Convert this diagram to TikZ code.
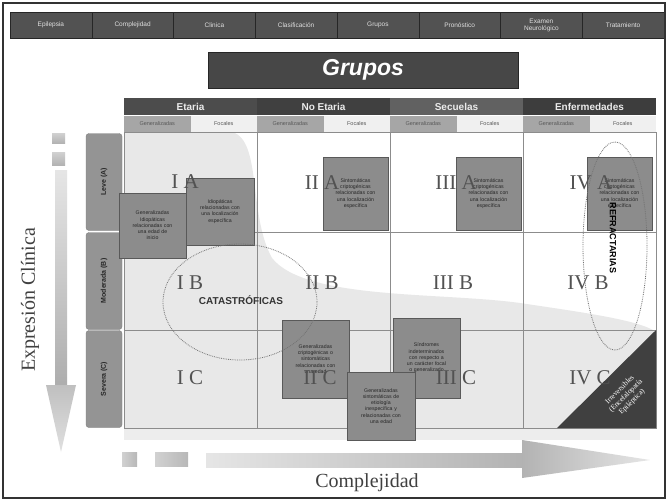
\documentclass[tikz,border=0pt]{standalone}
\usepackage{fontspec}
\setmainfont{Liberation Serif}
\setsansfont{Liberation Sans}
\usetikzlibrary{shapes.geometric}

\begin{document}
\begin{tikzpicture}[x=1pt, y=-1pt,
  tab/.style={draw=black!85, fill=black!68, text=black!12, minimum width=81.75pt, minimum height=26pt, inner sep=0pt, align=center, font=\sffamily\fontsize{6.5}{7}\selectfont},
  titlebox/.style={draw=black!85, fill=black!72, text=white, minimum width=310pt, minimum height=36pt, font=\sffamily\bfseries\itshape\fontsize{23}{25}\selectfont},
  colhead/.style={fill=black!70, text=black!8, minimum width=133pt, minimum height=17pt, inner sep=0pt, font=\sffamily\bfseries\fontsize{10}{11}\selectfont},
  genhead/.style={fill=black!35, text=black!65, minimum width=66.5pt, minimum height=16pt, inner sep=0pt, font=\sffamily\fontsize{5.5}{6}\selectfont},
  fochead/.style={genhead, fill=black!6},
  rowhead/.style={fill=black!42, draw=black!50, rounded corners=3pt, minimum width=97pt, minimum height=36pt, rotate=90, inner sep=0pt, text=black!85, font=\sffamily\bfseries\fontsize{7}{8}\selectfont},
  cell/.style={text=black!68, font=\fontsize{21}{23}\selectfont},
  groupbox/.style={fill=black!45, draw=black!65, text=black!85, align=center, inner sep=2pt, font=\sffamily\fontsize{5.2}{6.2}\selectfont},
  zone/.style={draw=black!55, densely dotted, thick, ellipse, inner sep=0pt},
  axis/.style={text=black!75, font=\fontsize{20}{22}\selectfont}]

\useasboundingbox (0,0) rectangle (668,501);
\fill[white] (0,0) rectangle (668,501);

% top menu
\node[tab] (epilepsia) at (50.9,25) {Epilepsia};
\node[tab] (complejidad) at (132.6,25) {Complejidad};
\node[tab] (clinica) at (214.4,25) {Clinica};
\node[tab] (clasificacion) at (296.1,25) {Clasificación};
\node[tab] (grupos) at (377.9,25) {Grupos};
\node[tab] (pronostico) at (459.6,25) {Pronóstico};
\node[tab] (examen) at (541.4,25) {Examen\\Neurológico};
\node[tab] (tratamiento) at (623.1,25) {Tratamiento};

\node[titlebox] (titulo) at (363,70) {Grupos};

% soft background swoosh
\fill[black!9] (124,132) -- (232,132) .. controls (262,140) and (248,215) .. (272,258)
  .. controls (305,300) and (440,292) .. (520,303) .. controls (580,312) and (640,320) .. (656,332)
  -- (656,428) -- (124,428) -- cycle;
\fill[black!7] (124,428) rectangle (640,440);

% column headers
\node[colhead] (etaria) at (190.5,106.5) {Etaria};
\node[colhead, fill=black!75] (noetaria) at (323.5,106.5) {No Etaria};
\node[colhead, fill=black!62] (secuelas) at (456.5,106.5) {Secuelas};
\node[colhead, fill=black!76] (enfermedades) at (589.5,106.5) {Enfermedades};

\node[genhead] (gen1) at (157.25,124) {Generalizadas};
\node[fochead] (foc1) at (223.75,124) {Focales};
\node[genhead] (gen2) at (290.25,124) {Generalizadas};
\node[fochead] (foc2) at (356.75,124) {Focales};
\node[genhead] (gen3) at (423.25,124) {Generalizadas};
\node[fochead] (foc3) at (489.75,124) {Focales};
\node[genhead] (gen4) at (556.25,124) {Generalizadas};
\node[fochead] (foc4) at (622.75,124) {Focales};

% grid
\draw[black!45, thick] (124,132) rectangle (656,428);
\draw[black!45, thick] (124,232) -- (656,232);
\draw[black!45, thick] (124,330) -- (656,330);
\draw[black!45, thick] (257,132) -- (257,428);
\draw[black!45, thick] (390,132) -- (390,428);
\draw[black!45, thick] (523,132) -- (523,428);

% row headers
\node[rowhead] (leve) at (104,182) {Leve (A)};
\node[rowhead] (moderada) at (104,281) {Moderada (B)};
\node[rowhead] (severa) at (104,379) {Severa (C)};

% group boxes
\node[groupbox, text width=63pt, minimum height=65pt] (idiopedad) at (152.5,225.5) {Generalizadas\\Idiopáticas\\relacionadas con\\una edad de\\inicio};
\node[groupbox, text width=64pt, minimum height=67pt] (idioploc) at (220,211.5) {Idiopáticas\\relacionadas con\\una localización\\específica};
\node[groupbox, text width=61pt, minimum height=73pt] (sintloc2) at (355.5,193.5) {Sintomáticas\\criptogénicas\\relacionadas con\\una localización\\específica};
\node[groupbox, text width=61pt, minimum height=73pt] (sintloc3) at (488.5,193.5) {Sintomáticas\\criptogénicas\\relacionadas con\\una localización\\específica};
\node[groupbox, text width=61pt, minimum height=73pt] (sintloc4) at (619.5,193.5) {Sintomáticas\\criptogénicas\\relacionadas con\\una localización\\específica};
\node[groupbox, text width=63pt, minimum height=78pt] (generaledad) at (315.5,359) {Generalizadas\\criptogénicas o\\sintomáticas\\relacionadas con\\una edad};
\node[groupbox, text width=63pt, minimum height=80pt] (indeterminados) at (426.5,358) {Síndromes\\indeterminados\\con respecto a\\un carácter focal\\o generalizado};
\node[groupbox, text width=64pt, minimum height=68pt] (inespecifica) at (381,406) {Generalizadas\\sintomáticas de\\etiología\\inespecífica y\\relacionadas con\\una edad};

% irreversible corner
\fill[black!75] (557,428) -- (656,330) -- (656,428) -- cycle;
\node[rotate=45, text=white, align=center, font=\fontsize{7.5}{8.5}\selectfont] (irreversibles) at (626,396) {Irreversibles\\(Encefalopatía\\Epiléptica)};

% cell labels
\node[cell] (ia) at (185,182) {I A};
\node[cell] (iia) at (322,183) {II A};
\node[cell] (iiia) at (456,183) {III A};
\node[cell] (iva) at (591,183) {IV A};
\node[cell] (ib) at (190,283) {I B};
\node[cell] (iib) at (322,283) {II B};
\node[cell] (iiib) at (453,283) {III B};
\node[cell] (ivb) at (588,283) {IV B};
\node[cell] (ic) at (190,378) {I C};
\node[cell] (iic) at (320,378) {II C};
\node[cell] (iiic) at (456,378) {III C};
\node[cell] (ivc) at (590,378) {IV C};

% special groups
\node[zone, minimum width=154pt, minimum height=116pt] (catastroficas) at (240,302) {};
\node[text=black!80, font=\sffamily\bfseries\fontsize{10}{11}\selectfont] (catlabel) at (241,300) {CATASTRÓFICAS};
\node[zone, minimum width=64pt, minimum height=208pt] (refractarias) at (615,246) {};
\node[rotate=-90, font=\sffamily\bfseries\fontsize{9}{10}\selectfont] (reflabel) at (613,238) {REFRACTARIAS};

% vertical axis
\shade[top color=black!18, bottom color=black!30] (52,133) rectangle (65,143);
\shade[top color=black!18, bottom color=black!30] (52,152) rectangle (65,165);
\shade[top color=black!10, bottom color=black!32] (55,170) rectangle (67,385);
\shade[top color=black!25, bottom color=black!12] (46,385) -- (76,385) -- (61,452) -- cycle;
\node[axis, rotate=90] (expresion) at (30,300) {Expresión Clínica};

% horizontal axis
\shade[left color=black!18, right color=black!28] (122,452) rectangle (137,466);
\shade[left color=black!18, right color=black!28] (155,452) rectangle (188,466);
\shade[left color=black!10, right color=black!30] (206,453) rectangle (522,467);
\shade[left color=black!30, right color=black!10] (522,440) -- (650,460) -- (522,478) -- cycle;
\node[axis] (complejidadeje) at (367,483) {Complejidad};

\draw[line width=2pt, black!80] (3,3) rectangle (665,498);

\end{tikzpicture}
\end{document}
